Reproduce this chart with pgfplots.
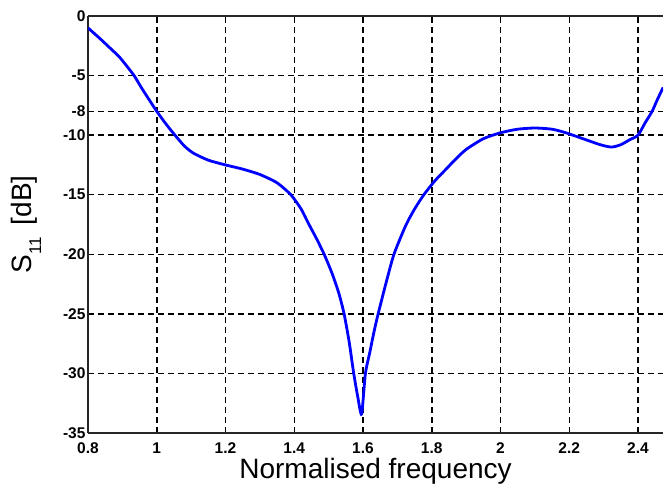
\documentclass[border=0pt]{standalone}
\usepackage{pgfplots}
\pgfplotsset{compat=1.18}
\usepackage{fontspec}
\setmainfont{Liberation Sans}
\begin{document}
\begin{tikzpicture}
\begin{axis}[
  scale only axis,
  width=575pt, height=417pt,
  xmin=0.8, xmax=2.473, ymin=-35, ymax=0,
  axis x line=box, axis y line=left,
  axis line style={-, line width=1.8pt, draw=black!85},
  xtick={0.8,1,1.2,1.4,1.6,1.8,2,2.2,2.4},
  xticklabels={0.8,1,1.2,1.4,1.6,1.8,2,2.2,2.4},
  ytick={0,-5,-8,-10,-15,-20,-25,-30,-35},
  yticklabels={0,-5,-8,-10,-15,-20,-25,-30,-35},
  tick label style={font=\fontsize{15.5}{15.5}\selectfont\bfseries},
  xticklabel style={anchor=base, yshift=-20pt},
  yticklabel style={xshift=1pt},
  tick align=inside, tick style={black, line width=1pt},
  major tick length=6pt,
  grid=major,
  major grid style={black, line width=1.5pt, dash pattern=on 6pt off 4pt},
  xlabel={Normalised frequency},
  ylabel={S\raisebox{-10pt}{\fontsize{17}{17}\selectfont 11}\hspace{12pt}[dB]},
  label style={font=\fontsize{28}{28}\selectfont},
  xlabel style={at={(axis description cs:0.5,0)}, anchor=base, yshift=-45pt},
  ylabel style={at={(axis description cs:-0.1078,0.5)}, anchor=center},
]
\addplot[blue, line width=2.8pt, smooth, tension=0.4] coordinates {
(0.800,-1.0) (0.835,-1.9) (0.870,-2.85) (0.890,-3.4) (0.910,-4.1) (0.934,-5.0)
(0.955,-6.0) (0.975,-6.9) (1.000,-8.0) (1.020,-8.8) (1.036,-9.4) (1.053,-10.0)
(1.080,-10.9) (1.106,-11.5) (1.150,-12.1) (1.200,-12.5) (1.250,-12.85) (1.300,-13.3)
(1.350,-14.0) (1.390,-15.0) (1.420,-16.2) (1.443,-17.5) (1.465,-18.7) (1.487,-20.0)
(1.510,-21.6) (1.530,-23.3) (1.545,-25.0) (1.560,-27.4) (1.573,-30.0) (1.585,-32.0)
(1.596,-33.4) (1.607,-30.0) (1.620,-28.2) (1.632,-26.5) (1.644,-25.0) (1.667,-22.4)
(1.690,-20.0) (1.724,-17.6) (1.750,-16.2) (1.777,-15.0) (1.810,-13.8) (1.840,-12.9)
(1.870,-12.0) (1.900,-11.2) (1.950,-10.3) (2.000,-9.8) (2.050,-9.5) (2.100,-9.4)
(2.150,-9.5) (2.190,-9.8) (2.240,-10.3) (2.290,-10.8) (2.323,-11.0) (2.350,-10.8)
(2.375,-10.4) (2.400,-10.0) (2.420,-9.0) (2.441,-8.0) (2.455,-7.1) (2.473,-6.0)
};
\coordinate (bl) at (rel axis cs:0,0);
\coordinate (tr) at (rel axis cs:1,1);
\end{axis}
\path (bl) ++(-88pt,-51pt);
\path (tr) ++(0pt,16pt);
\end{tikzpicture}
\end{document}
